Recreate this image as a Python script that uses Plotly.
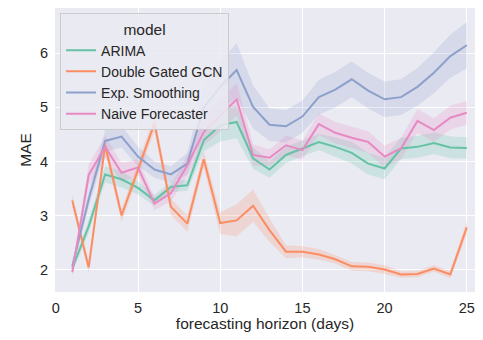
import plotly.graph_objects as go

horizon = list(range(1, 26))

models = ["ARIMA", "Double Gated GCN", "Exp. Smoothing", "Naive Forecaster"]

arima_mae = [2.02, 2.8, 3.76, 3.67, 3.51, 3.28, 3.53, 3.56, 4.39, 4.67, 4.73, 4.06, 3.85,
             4.12, 4.24, 4.36, 4.27, 4.16, 3.96, 3.87, 4.24, 4.27, 4.34, 4.26, 4.25]
arima_ci = [0.08, 0.12, 0.15, 0.15, 0.12, 0.1, 0.1, 0.1, 0.2, 0.3, 0.3, 0.2, 0.15,
            0.15, 0.15, 0.15, 0.18, 0.2, 0.2, 0.2, 0.2, 0.2, 0.2, 0.2, 0.2]

gcn_mae = [3.28, 2.04, 4.3, 3.0, 3.85, 4.71, 3.16, 2.85, 4.04, 2.86, 2.91, 3.18, 2.73,
           2.33, 2.33, 2.28, 2.19, 2.06, 2.05, 2.0, 1.91, 1.92, 2.02, 1.91, 2.78]
gcn_ci = [0.12, 0.1, 0.12, 0.12, 0.12, 0.15, 0.15, 0.15, 0.15, 0.2, 0.3, 0.3, 0.22,
          0.12, 0.1, 0.1, 0.08, 0.08, 0.08, 0.08, 0.06, 0.06, 0.06, 0.07, 0.12]

exp_mae = [2.06, 3.3, 4.38, 4.46, 4.09, 3.85, 3.76, 3.96, 5.0, 5.38, 5.69, 5.01, 4.68,
           4.65, 4.83, 5.19, 5.33, 5.52, 5.31, 5.15, 5.19, 5.38, 5.64, 5.95, 6.15]
exp_ci = [0.08, 0.15, 0.2, 0.2, 0.18, 0.15, 0.15, 0.2, 0.35, 0.45, 0.5, 0.4, 0.3,
          0.3, 0.3, 0.32, 0.33, 0.33, 0.33, 0.33, 0.33, 0.35, 0.38, 0.4, 0.43]

naive_mae = [1.95, 3.75, 4.27, 3.79, 3.89, 3.22, 3.41, 3.93, 4.55, 4.85, 5.15, 4.12, 4.07,
             4.3, 4.21, 4.69, 4.53, 4.44, 4.36, 4.09, 4.24, 4.75, 4.58, 4.81, 4.9]
naive_ci = [0.08, 0.2, 0.2, 0.18, 0.15, 0.12, 0.15, 0.2, 0.25, 0.3, 0.3, 0.2, 0.15,
            0.18, 0.18, 0.2, 0.2, 0.2, 0.2, 0.2, 0.2, 0.22, 0.22, 0.22, 0.22]

x_ticks = [0, 5, 10, 15, 20, 25]
y_ticks = [2, 3, 4, 5, 6]

colors = ["#66c2a5", "#fc8d62", "#8da0cb", "#e78ac3"]
fills = ["rgba(102,194,165,0.22)", "rgba(252,141,98,0.22)",
         "rgba(141,160,203,0.22)", "rgba(231,138,195,0.22)"]

series = [(arima_mae, arima_ci), (gcn_mae, gcn_ci), (exp_mae, exp_ci), (naive_mae, naive_ci)]

fig = go.Figure()
for name, (vals, ci), col, fc in zip(models, series, colors, fills):
    upper = [v + c for v, c in zip(vals, ci)]
    lower = [v - c for v, c in zip(vals, ci)]
    fig.add_trace(go.Scatter(
        x=horizon + horizon[::-1], y=upper + lower[::-1],
        fill="toself", fillcolor=fc, line=dict(width=0),
        mode="lines", hoverinfo="skip", showlegend=False))
for name, (vals, ci), col in zip(models, series, colors):
    fig.add_trace(go.Scatter(
        x=horizon, y=vals, mode="lines", name=name,
        line=dict(color=col, width=2)))

font_family = "Liberation Sans, Arial, sans-serif"
fig.update_layout(
    width=467, height=324,
    margin=dict(l=47, r=0, t=0, b=40),
    paper_bgcolor="white", plot_bgcolor="#EAEAF2",
    font=dict(family=font_family, size=14.5, color="#262626"),
    xaxis=dict(range=[-0.05, 25.5], tickvals=x_ticks, showgrid=True,
               gridcolor="white", gridwidth=1.3, zeroline=False, showline=False,
               ticks="", ticklabelstandoff=5,
               title=dict(text="forecasting horizon (days)", font=dict(size=15.5), standoff=3)),
    yaxis=dict(range=[1.585, 6.839], tickvals=y_ticks, showgrid=True,
               gridcolor="white", gridwidth=1.3, zeroline=False, showline=False,
               ticks="", ticklabelstandoff=6,
               title=dict(text="MAE", font=dict(size=15.5), standoff=4)),
    legend=dict(x=0.012, y=0.981, xanchor="left", yanchor="top",
                bgcolor="rgba(234,234,242,0.85)", bordercolor="rgba(200,200,200,0.9)",
                borderwidth=1, font=dict(size=14),
                title=dict(text="model", side="top center", font=dict(size=15.5)),
                tracegroupgap=0),
    showlegend=True,
)

fig.write_html("out.html")
